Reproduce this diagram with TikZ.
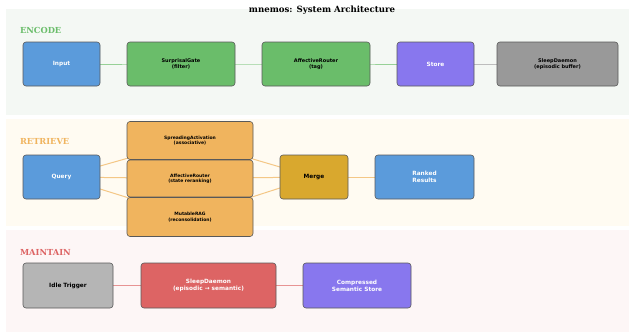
\documentclass[tikz,border=0pt]{standalone}
\usepackage{fontspec}
\setmainfont{DejaVu Serif}
\setsansfont{DejaVu Sans}
\pgfdeclarelayer{panels}
\pgfdeclarelayer{links}
\pgfsetlayers{panels,links,main}

\definecolor{encbg}{HTML}{F4F8F4}
\definecolor{retbg}{HTML}{FFFBF2}
\definecolor{mntbg}{HTML}{FDF6F6}
\definecolor{cblue}{HTML}{5B9BDB}
\definecolor{cgreen}{HTML}{6ABD6A}
\definecolor{cpurple}{HTML}{8877EE}
\definecolor{cgray}{HTML}{999999}
\definecolor{clgray}{HTML}{B5B5B5}
\definecolor{corange}{HTML}{F0B45E}
\definecolor{cgold}{HTML}{D9A82E}
\definecolor{cred}{HTML}{DD6464}

\tikzset{
  box/.style={draw=black!65, line width=.6pt, rounded corners=3pt, align=center,
    font=\sffamily\bfseries\fontsize{5}{6}\selectfont, inner sep=1pt},
  big/.style={font=\sffamily\bfseries\fontsize{5.8}{6.8}\selectfont},
  small/.style={font=\sffamily\bfseries\fontsize{4.5}{5.4}\selectfont},
  stage/.style={anchor=west, font=\bfseries\fontsize{8.3}{9}\selectfont},
  link/.style={line width=1pt}
}

\begin{document}
\begin{tikzpicture}[x=1pt,y=-1pt]
   \useasboundingbox (0,0) rectangle (629,332);
   \node[font=\bfseries\fontsize{8.6}{10}\selectfont] (title) at (322,10) {mnemos: System Architecture};

   % encode row
   \node[stage, text=cgreen] (enc) at (16.5,30) {ENCODE};
   \node[box, big, fill=cblue, text=white, minimum width=77, minimum height=44] (input) at (61.5,64) {Input};
   \node[box, fill=cgreen, minimum width=108, minimum height=44] (gate) at (181,64) {SurprisalGate\\(filter)};
   \node[box, fill=cgreen, minimum width=108, minimum height=44] (tag) at (316,64) {AffectiveRouter\\(tag)};
   \node[box, big, fill=cpurple, text=white, minimum width=77, minimum height=44] (store) at (435.5,64) {Store};
   \node[box, fill=cgray, minimum width=121, minimum height=44] (buffer) at (557.5,64) {SleepDaemon\\(episodic buffer)};

   % retrieve row
   \node[stage, text=corange] (ret) at (16.5,141) {RETRIEVE};
   \node[box, big, fill=cblue, text=white, minimum width=77, minimum height=44] (query) at (61.5,177) {Query};
   \node[box, small, fill=corange, minimum width=126, minimum height=38] (spread) at (190,140.5) {SpreadingActivation\\(associative)};
   \node[box, small, fill=corange, minimum width=126, minimum height=37] (rerank) at (190,178.5) {AffectiveRouter\\(state reranking)};
   \node[box, small, fill=corange, minimum width=126, minimum height=39] (mrag) at (190,217) {MutableRAG\\(reconsolidation)};
   \node[box, big, fill=cgold, minimum width=68, minimum height=44] (merge) at (314,177) {Merge};
   \node[box, big, fill=cblue, text=white, minimum width=99, minimum height=44] (ranked) at (424.5,177) {Ranked\\Results};

   % maintain row
   \node[stage, text=cred] (mnt) at (16.5,252) {MAINTAIN};
   \node[box, big, fill=clgray, minimum width=90, minimum height=45] (idle) at (68,285.5) {Idle Trigger};
   \node[box, big, fill=cred, text=white, minimum width=135, minimum height=45] (daemon) at (208.5,285.5) {SleepDaemon\\(episodic → semantic)};
   \node[box, big, fill=cpurple, text=white, minimum width=108, minimum height=45] (semantic) at (357,285.5) {Compressed\\Semantic Store};

   \begin{pgfonlayer}{panels}
     \fill[encbg] (6,9) rectangle (629,115);
     \fill[retbg] (6,119) rectangle (629,226);
     \fill[mntbg] (6,230) rectangle (629,332);
   \end{pgfonlayer}

   \begin{pgfonlayer}{links}
     \draw[link, cgreen!70] (input.center) -- (gate.center) -- (tag.center) -- (store.center);
     \draw[link, cgray!65] (store.center) -- (buffer.center);
     \foreach \n in {spread,rerank,mrag} {
       \draw[link, corange!75] (query.center) -- (\n.center) -- (merge.center);
     }
     \draw[link, corange!75] (merge.center) -- (ranked.center);
     \draw[link, cred!70] (idle.center) -- (daemon.center) -- (semantic.center);
   \end{pgfonlayer}
\end{tikzpicture}
\end{document}
